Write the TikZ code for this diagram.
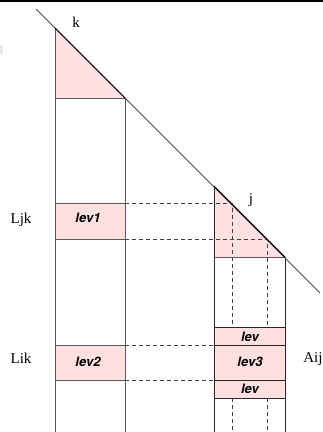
\documentclass[tikz,border=0pt]{standalone}
\usepackage{fontspec}
\setmainfont{Liberation Serif}
\newfontfamily\levfont{TeX Gyre Heros}
\begin{document}
\begin{tikzpicture}[x=1pt,y=-1pt,
  pinkfill/.style={fill=red!12},
  colline/.style={draw=black!65,line width=0.9pt},
  rcolline/.style={draw=black!85,line width=0.9pt},
  dashline/.style={draw=black!75,line width=0.8pt,dash pattern=on 4pt off 3pt},
  diag/.style={draw=black!70,line width=0.8pt},
  levtxt/.style={font=\levfont\bfseries\itshape\fontsize{13}{15}\selectfont,inner sep=0pt,anchor=base},
  lbl/.style={font=\fontsize{15}{17}\selectfont,inner sep=0pt,anchor=base}]
\useasboundingbox (0,0) rectangle (323,432);
% top rule and small grey mark
\draw[line width=1.6pt] (0,0.8) -- (323,0.8);
\fill[black!8] (0,45) rectangle (3,55);
% pink fills
\fill[pinkfill] (55,28) -- (125,98) -- (55,98) -- cycle;
\fill[pinkfill] (55,203) rectangle (125,239);
\fill[pinkfill] (55,345) rectangle (125,380);
\fill[pinkfill] (214,186) -- (285,257) -- (214,257) -- cycle;
\fill[pinkfill] (214,327) rectangle (285,398);
% coordinates
\coordinate (d1a) at (125,203); \coordinate (d1b) at (232,203);
\coordinate (d2a) at (125,239); \coordinate (d2b) at (267,239);
\coordinate (d3a) at (125,345); \coordinate (d3b) at (214,345);
\coordinate (d4a) at (125,380); \coordinate (d4b) at (214,380);
\coordinate (v1a) at (232,327); \coordinate (v1c) at (232,398); \coordinate (v1d) at (232,432);
\coordinate (v2a) at (267,327); \coordinate (v2c) at (267,398); \coordinate (v2d) at (267,432);
% dashed lines
\draw[dashline] (d1a) -- (d1b) -- (v1a);
\draw[dashline] (v1c) -- (v1d);
\draw[dashline] (d2a) -- (d2b) -- (v2a);
\draw[dashline] (v2c) -- (v2d);
\draw[dashline] (d3a) -- (d3b);
\draw[dashline] (d4a) -- (d4b);
% left column
\coordinate (l1) at (55,28); \coordinate (l2) at (55,432);
\coordinate (l3) at (125,98); \coordinate (l4) at (125,432);
\draw[colline] (l1) -- (l2);
\draw[colline] (l3) -- (l4);
\draw[colline] (55,98) -- (l3);
\draw[colline] (55,203) -- (125,203);
\draw[colline] (55,239) -- (125,239);
\draw[colline] (55,345) -- (125,345);
\draw[colline] (55,380) -- (125,380);
% right column
\coordinate (r1) at (214,186); \coordinate (r2) at (214,432);
\coordinate (r3) at (285,257); \coordinate (r4) at (285,432);
\draw[rcolline] (r1) -- (r2);
\draw[rcolline] (r3) -- (r4);
\draw[colline] (214,257) -- (r3);
\draw[rcolline] (214,327) -- (285,327);
\draw[rcolline] (214,345) -- (285,345);
\draw[rcolline] (214,380) -- (285,380);
\draw[rcolline] (214,398) -- (285,398);
% diagonal
\coordinate (da) at (36,9); \coordinate (db) at (320,293);
\draw[diag] (da) -- (db);
\draw[line width=1pt] (l1) -- (l3);
\draw[line width=1pt] (r1) -- (r3);
% labels
\node[lbl] (k) at (76,27) {k};
\node[lbl] (j) at (251,203) {j};
\node[lbl] (Ljk) at (21,223) {Ljk};
\node[lbl] (Lik) at (21,363) {Lik};
\node[lbl] (Aij) at (313,362) {Aij};
\node[levtxt] (lev1) at (88,222) {lev1};
\node[levtxt] (lev2) at (88,366) {lev2};
\node[levtxt] (lev3) at (250,366) {lev3};
\node[levtxt] (levu) at (250,341) {lev};
\node[levtxt] (levd) at (250,393) {lev};
\end{tikzpicture}
\end{document}
